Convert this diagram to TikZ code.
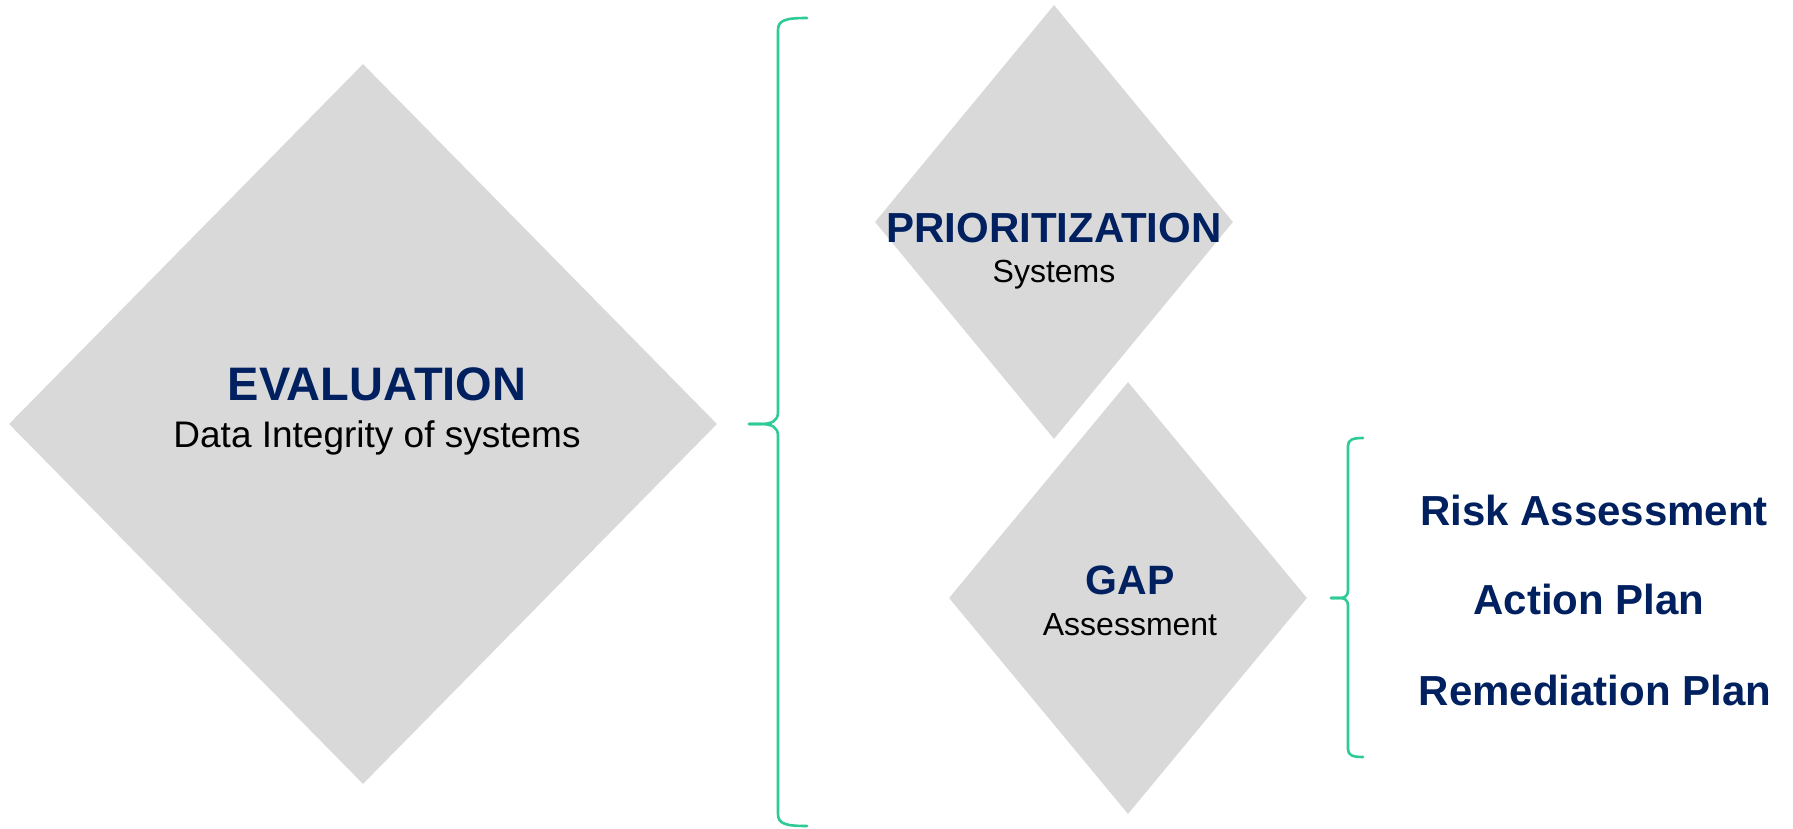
\documentclass[tikz,border=0pt]{standalone}
\usepackage{fontspec}
\setmainfont{Liberation Sans}
\usetikzlibrary{shapes.geometric}
\definecolor{dgray}{RGB}{217,217,217}
\definecolor{navy}{RGB}{0,32,96}
\definecolor{mint}{RGB}{47,203,151}
\tikzset{
  dia/.style={diamond, fill=dgray, draw=none, inner sep=0pt, aspect=1},
  ttl/.style={anchor=base, inner sep=0pt, text=navy, font=\bfseries\fontsize{#1}{#1}\selectfont},
  sub/.style={anchor=base, inner sep=0pt, text=black, font=\fontsize{#1}{#1}\selectfont},
  brace/.style={draw=mint, line width=2.6pt, line cap=round, line join=round}
}
\begin{document}
\begin{tikzpicture}[x=1pt,y=1pt]
\useasboundingbox (0,0) rectangle (1793,-829);
% diamonds
\node[dia, minimum width=708pt, minimum height=720pt] (eval) at (363,-424) {};
\node[dia, minimum width=358pt, minimum height=434pt] (prio) at (1054,-222) {};
\node[dia, minimum width=358pt, minimum height=432pt] (gap) at (1128,-598) {};
% texts
\node[ttl=47] (evalt) at (377,-400) {EVALUATION};
\node[sub=37] (evals) at (377,-447) {Data Integrity of systems};
\node[ttl=42] (priot) at (1054,-242) {PRIORITIZATION};
\node[sub=32] (prios) at (1054,-282) {Systems};
\node[ttl=41] (gapt) at (1130,-594) {GAP};
\node[sub=32] (gaps) at (1130,-635) {Assessment};
\node[ttl=42] (risk) at (1594,-525) {Risk Assessment};
\node[ttl=42] (act) at (1589,-614) {Action Plan};
\node[ttl=42] (rem) at (1595,-705) {Remediation Plan};
% big brace
\coordinate (b1top) at (807,-18);
\coordinate (b1tip) at (749,-424);
\coordinate (b1bot) at (807,-826);
\draw[brace] (b1top) .. controls (786,-18) and (778,-20) .. (778,-30)
  -- (778,-412) .. controls (778,-421) and (772,-424) .. (760,-424) -- (b1tip);
\draw[brace] (b1tip) -- (760,-424) .. controls (772,-424) and (778,-427) .. (778,-436)
  -- (778,-814) .. controls (778,-824) and (786,-826) .. (b1bot);
% small brace
\coordinate (b2top) at (1363,-438);
\coordinate (b2tip) at (1331,-598);
\coordinate (b2bot) at (1363,-757);
\draw[brace] (b2top) .. controls (1352,-438) and (1348,-440) .. (1348,-446)
  -- (1348,-590) .. controls (1348,-596) and (1345,-598) .. (1339,-598) -- (b2tip);
\draw[brace] (b2tip) -- (1339,-598) .. controls (1345,-598) and (1348,-600) .. (1348,-606)
  -- (1348,-749) .. controls (1348,-755) and (1352,-757) .. (b2bot);
\end{tikzpicture}
\end{document}
